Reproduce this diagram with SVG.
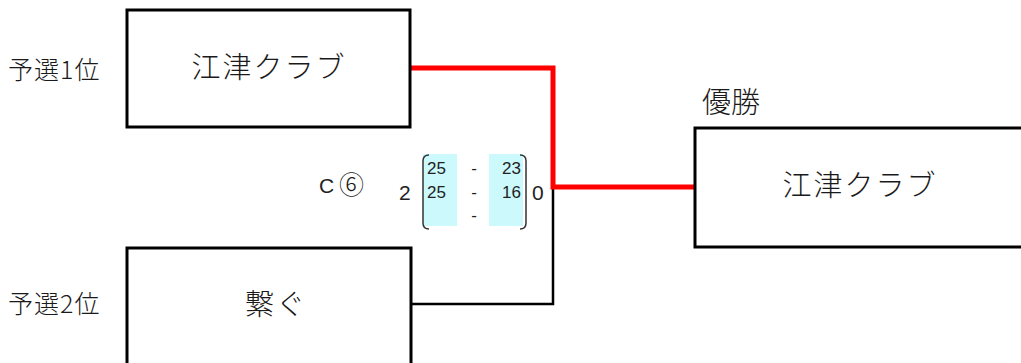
<svg xmlns="http://www.w3.org/2000/svg" width="1021" height="363" viewBox="0 0 1021 363">
<style>
.box{fill:#fff;stroke:#000;stroke-width:3}
.jp{font-family:"Noto Sans CJK JP","Noto Sans",sans-serif;fill:#1a1a1a;font-weight:300}
.big{font-size:29px;text-anchor:middle;letter-spacing:2px}
.lab{font-size:25px;letter-spacing:1px}
.sc{font-family:"Liberation Sans","Noto Sans CJK JP",sans-serif;fill:#222}
.n{font-size:17px}
.br{fill:none;stroke:#333;stroke-width:1.5}
.cy{fill:#ccf9fc}
</style>
<rect width="1021" height="363" fill="#fff"/>
<g id="connectors">
<polyline points="411,304 553,304 553,187" fill="none" stroke="#000" stroke-width="2.5"/>
<polyline points="411,68 553,68 553,187 695,187" fill="none" stroke="#ff0000" stroke-width="5"/>
</g>
<g id="node-team1">
<rect class="box" x="127" y="10" width="283" height="117"/>
<text class="jp big" x="269" y="78">江津クラブ</text>
</g>
<g id="label-1"><text class="jp lab" x="8" y="79">予選1位</text></g>
<g id="node-team2">
<rect class="box" x="127" y="248" width="284" height="130"/>
<text class="jp big" x="276" y="315">繋ぐ</text>
</g>
<g id="label-2"><text class="jp lab" x="8" y="313">予選2位</text></g>
<g id="node-winner">
<rect class="box" x="695" y="128" width="340" height="119"/>
<text class="jp big" x="860" y="196">江津クラブ</text>
</g>
<g id="label-win"><text class="jp" font-size="29" x="702" y="113">優勝</text></g>
<g id="score">
<text class="sc" font-size="21" x="319" y="193">C</text>
<text class="jp" font-size="25" x="339" y="194">⑥</text>
<text class="sc" font-size="21" x="399" y="200">2</text>
<rect class="cy" x="423" y="154" width="34" height="72"/>
<rect class="cy" x="489" y="154" width="34" height="72"/>
<path class="br" d="M429,155 Q423,155 423,161 L423,223 Q423,229 429,229"/>
<path class="br" d="M520,155 Q526,155 526,161 L526,223 Q526,229 520,229"/>
<text class="sc n" x="427" y="174">25</text>
<text class="sc n" x="427" y="198">25</text>
<text class="sc n" x="521" y="174" text-anchor="end">23</text>
<text class="sc n" x="521" y="198" text-anchor="end">16</text>
<text class="sc n" x="474" y="174" text-anchor="middle">-</text>
<text class="sc n" x="474" y="198" text-anchor="middle">-</text>
<text class="sc n" x="474" y="221" text-anchor="middle">-</text>
<text class="sc" font-size="21" x="532" y="200">0</text>
</g>
</svg>
